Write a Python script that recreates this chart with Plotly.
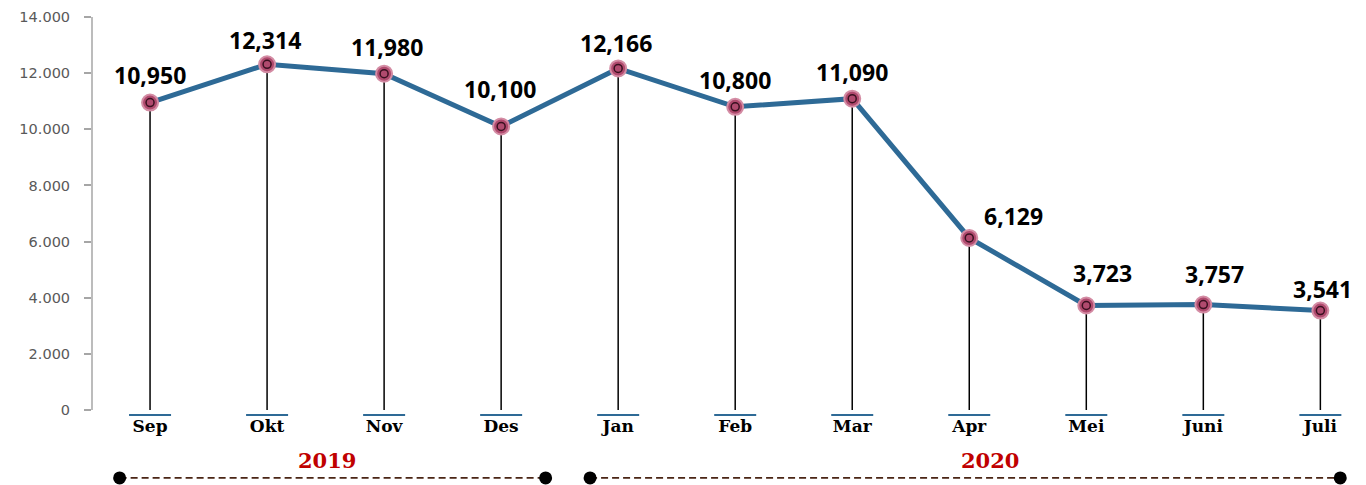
import plotly.graph_objects as go

months = ["Sep", "Okt", "Nov", "Des", "Jan", "Feb", "Mar", "Apr", "Mei", "Juni", "Juli"]
values = [10950, 12314, 11980, 10100, 12166, 10800, 11090, 6129, 3723, 3757, 3541]
labels = ["10,950", "12,314", "11,980", "10,100", "12,166", "10,800",
          "11,090", "6,129", "3,723", "3,757", "3,541"]
y_ticks = [0, 2000, 4000, 6000, 8000, 10000, 12000, 14000]
y_ticktext = ["0", "2.000", "4.000", "6.000", "8.000", "10.000", "12.000", "14.000"]
years = ["2019", "2020"]
year_spans = [(-0.26, 3.38), (3.76, 10.17)]
year_label_x = [1.51, 7.18]

# label nudges in px (style only)
lab_dx = [0, -2, 3, -1, -2, 0, 0, 44, 16, 11, 2]
lab_dy = [28, 24, 27, 37, 25, 27, 27, 22, 32, 31, 22]

x = list(range(len(months)))
fig = go.Figure()

# drop lines
dx, dy = [], []
for i, v in zip(x, values):
    dx += [i, i, None]
    dy += [v, 0, None]
fig.add_trace(go.Scatter(x=dx, y=dy, mode="lines",
                         line=dict(color="black", width=1.5), hoverinfo="skip"))

# small blue dashes under each drop line
fig.add_trace(go.Scatter(x=x, y=[-180] * len(x), mode="markers",
                         marker=dict(symbol="line-ew", size=30,
                                     line=dict(color="#2E6A96", width=2)),
                         hoverinfo="skip"))

# month labels
fig.add_trace(go.Scatter(x=x, y=[-650] * len(x), mode="text", text=months,
                         textfont=dict(family="DejaVu Serif", size=17, color="black",
                                       weight="bold"),
                         hoverinfo="skip"))

# main line
fig.add_trace(go.Scatter(x=x, y=values, mode="lines+markers",
                         line=dict(color="#2E6A96", width=5),
                         marker=dict(size=16, color="#b04a6e",
                                     line=dict(color="#d48ca4", width=2))))
fig.add_trace(go.Scatter(x=x, y=values, mode="markers",
                         marker=dict(symbol="circle-open", size=8, color="#3a1020",
                                     line=dict(color="#3a1020", width=1.5)),
                         hoverinfo="skip"))

for i, v, t, ddx, ddy in zip(x, values, labels, lab_dx, lab_dy):
    fig.add_annotation(x=i, y=v, text="<b>" + t + "</b>", showarrow=False,
                       xshift=ddx, yshift=ddy,
                       font=dict(family="Open Sans", size=23, color="black"))

# year timeline
y_line = -2420
for yr, (a, b), lx in zip(years, year_spans, year_label_x):
    fig.add_trace(go.Scatter(x=[a, b], y=[y_line, y_line], mode="lines",
                             line=dict(color="#4a2515", width=1.8, dash="7px,4px"),
                             hoverinfo="skip"))
    fig.add_trace(go.Scatter(x=[a, b], y=[y_line, y_line], mode="markers",
                             marker=dict(size=13, color="black"), hoverinfo="skip"))
    fig.add_annotation(x=lx, y=-1790, text="<b>" + yr + "</b>", showarrow=False,
                       font=dict(family="DejaVu Serif", size=21, color="#C00000"))

# y axis line from 0 to 14000
fig.add_shape(type="line", xref="paper", yref="y", x0=0, x1=0, y0=0, y1=14000,
              line=dict(color="#a6a6a6", width=1.5))

fig.update_layout(
    width=1366, height=485,
    margin=dict(l=92, r=0, t=17, b=0),
    plot_bgcolor="white", paper_bgcolor="white",
    showlegend=False,
    xaxis=dict(range=[-0.496, 10.39], showticklabels=False,
               showgrid=False, zeroline=False, showline=False, ticks=""),
    yaxis=dict(range=[-2672, 14000], tickvals=y_ticks, ticktext=y_ticktext,
               automargin=False,
               showgrid=False, zeroline=False, showline=False,
               ticks="outside", ticklen=7, tickcolor="#a6a6a6", tickwidth=1.5,
               ticklabelstandoff=11,
               tickfont=dict(family="DejaVu Sans", size=14.5, color="#595959")),
)

fig.write_html("out.html", config={"displayModeBar": False},
               post_script="document.body.style.margin='0';")
